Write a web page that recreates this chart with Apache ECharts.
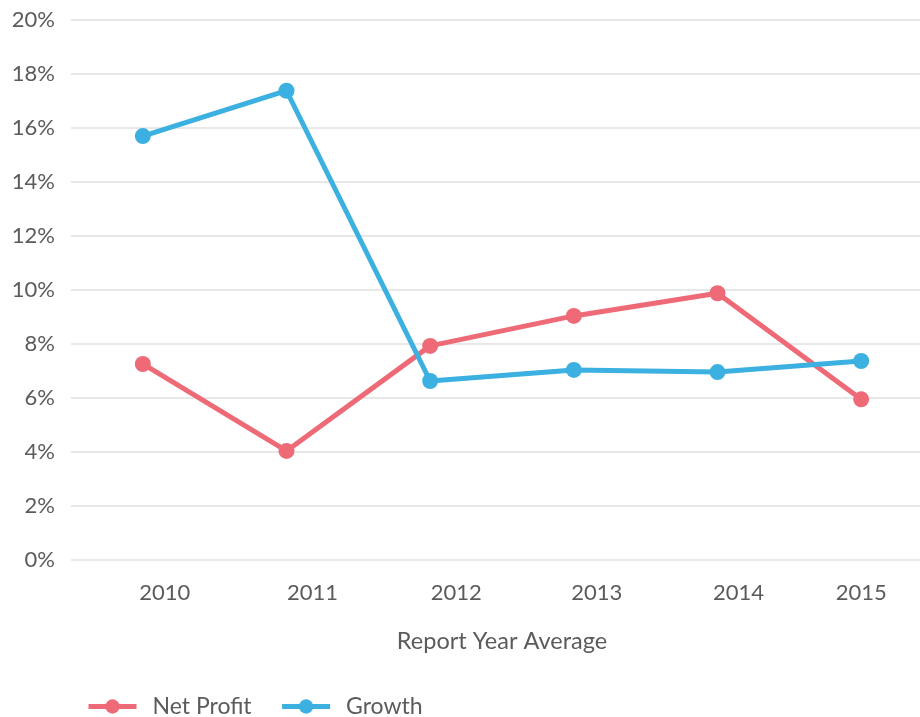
<!DOCTYPE html>
<html>
<head>
<meta charset="utf-8">
<script src="https://cdn.jsdelivr.net/npm/echarts@6/dist/echarts.min.js"></script>
<style>
  html, body { margin: 0; padding: 0; background: #fff; }
  #chart { width: 920px; height: 717px; }
</style>
</head>
<body>
<div id="chart"></div>
<script>
// data
var years = ['2010', '2011', '2012', '2013', '2014', '2015'];
var netProfit = [7.26, 4.04, 7.93, 9.04, 9.88, 5.95];
var growth = [15.70, 17.38, 6.63, 7.04, 6.96, 7.37];
var seriesNames = ['Net Profit', 'Growth'];

var textColor = '#5b5b5b';
var fontFamily = 'Lato, "Open Sans", sans-serif';

// year labels sit a bit right of the points, except the last one
var labelShift = [22, 26, 26, 23, 21, 0];

let myChart = echarts.init(document.getElementById('chart'));
let option = {
  animation: false,
  textStyle: { fontFamily: fontFamily },
  legend: {
    left: 86,
    top: 695,
    padding: 0,
    itemWidth: 48,
    itemHeight: 18,
    itemGap: 28,
    lineStyle: { width: 5 },
    textStyle: { fontSize: 23, color: textColor, fontFamily: fontFamily, padding: [0, 0, 0, 11] },
    data: seriesNames
  },
  grid: {
    left: 71,
    top: 20,
    bottom: 157,
    width: 862,
    outerBoundsMode: 'none',
    containLabel: false
  },
  xAxis: {
    type: 'category',
    boundaryGap: true,
    data: years.map(function (y, i) {
      return { value: y, textStyle: { padding: [0, 0, 0, labelShift[i] * 2] } };
    }),
    axisLine: { show: false },
    axisTick: { show: false },
    axisLabel: { margin: 22, fontSize: 22, color: textColor, fontFamily: fontFamily },
    name: 'Report Year Average',
    nameLocation: 'middle',
    nameGap: 69,
    nameTextStyle: { fontSize: 23.5, color: textColor, fontFamily: fontFamily }
  },
  yAxis: {
    type: 'value',
    min: 0,
    max: 20,
    interval: 2,
    axisLine: { show: false },
    axisTick: { show: false },
    axisLabel: {
      margin: 16,
      fontSize: 22,
      color: textColor,
      fontFamily: fontFamily,
      formatter: '{value}%'
    },
    splitLine: { lineStyle: { color: '#e8e8e8', width: 2 } }
  },
  series: [{
    name: seriesNames[0],
    type: 'line',
    data: netProfit,
    symbol: 'circle',
    symbolSize: 16,
    color: '#ee6a77',
    lineStyle: { width: 5 }
  }, {
    name: seriesNames[1],
    type: 'line',
    data: growth,
    symbol: 'circle',
    symbolSize: 16,
    color: '#3cb0e0',
    lineStyle: { width: 5 }
  }]
};
myChart.setOption(option);
</script>
</body>
</html>
